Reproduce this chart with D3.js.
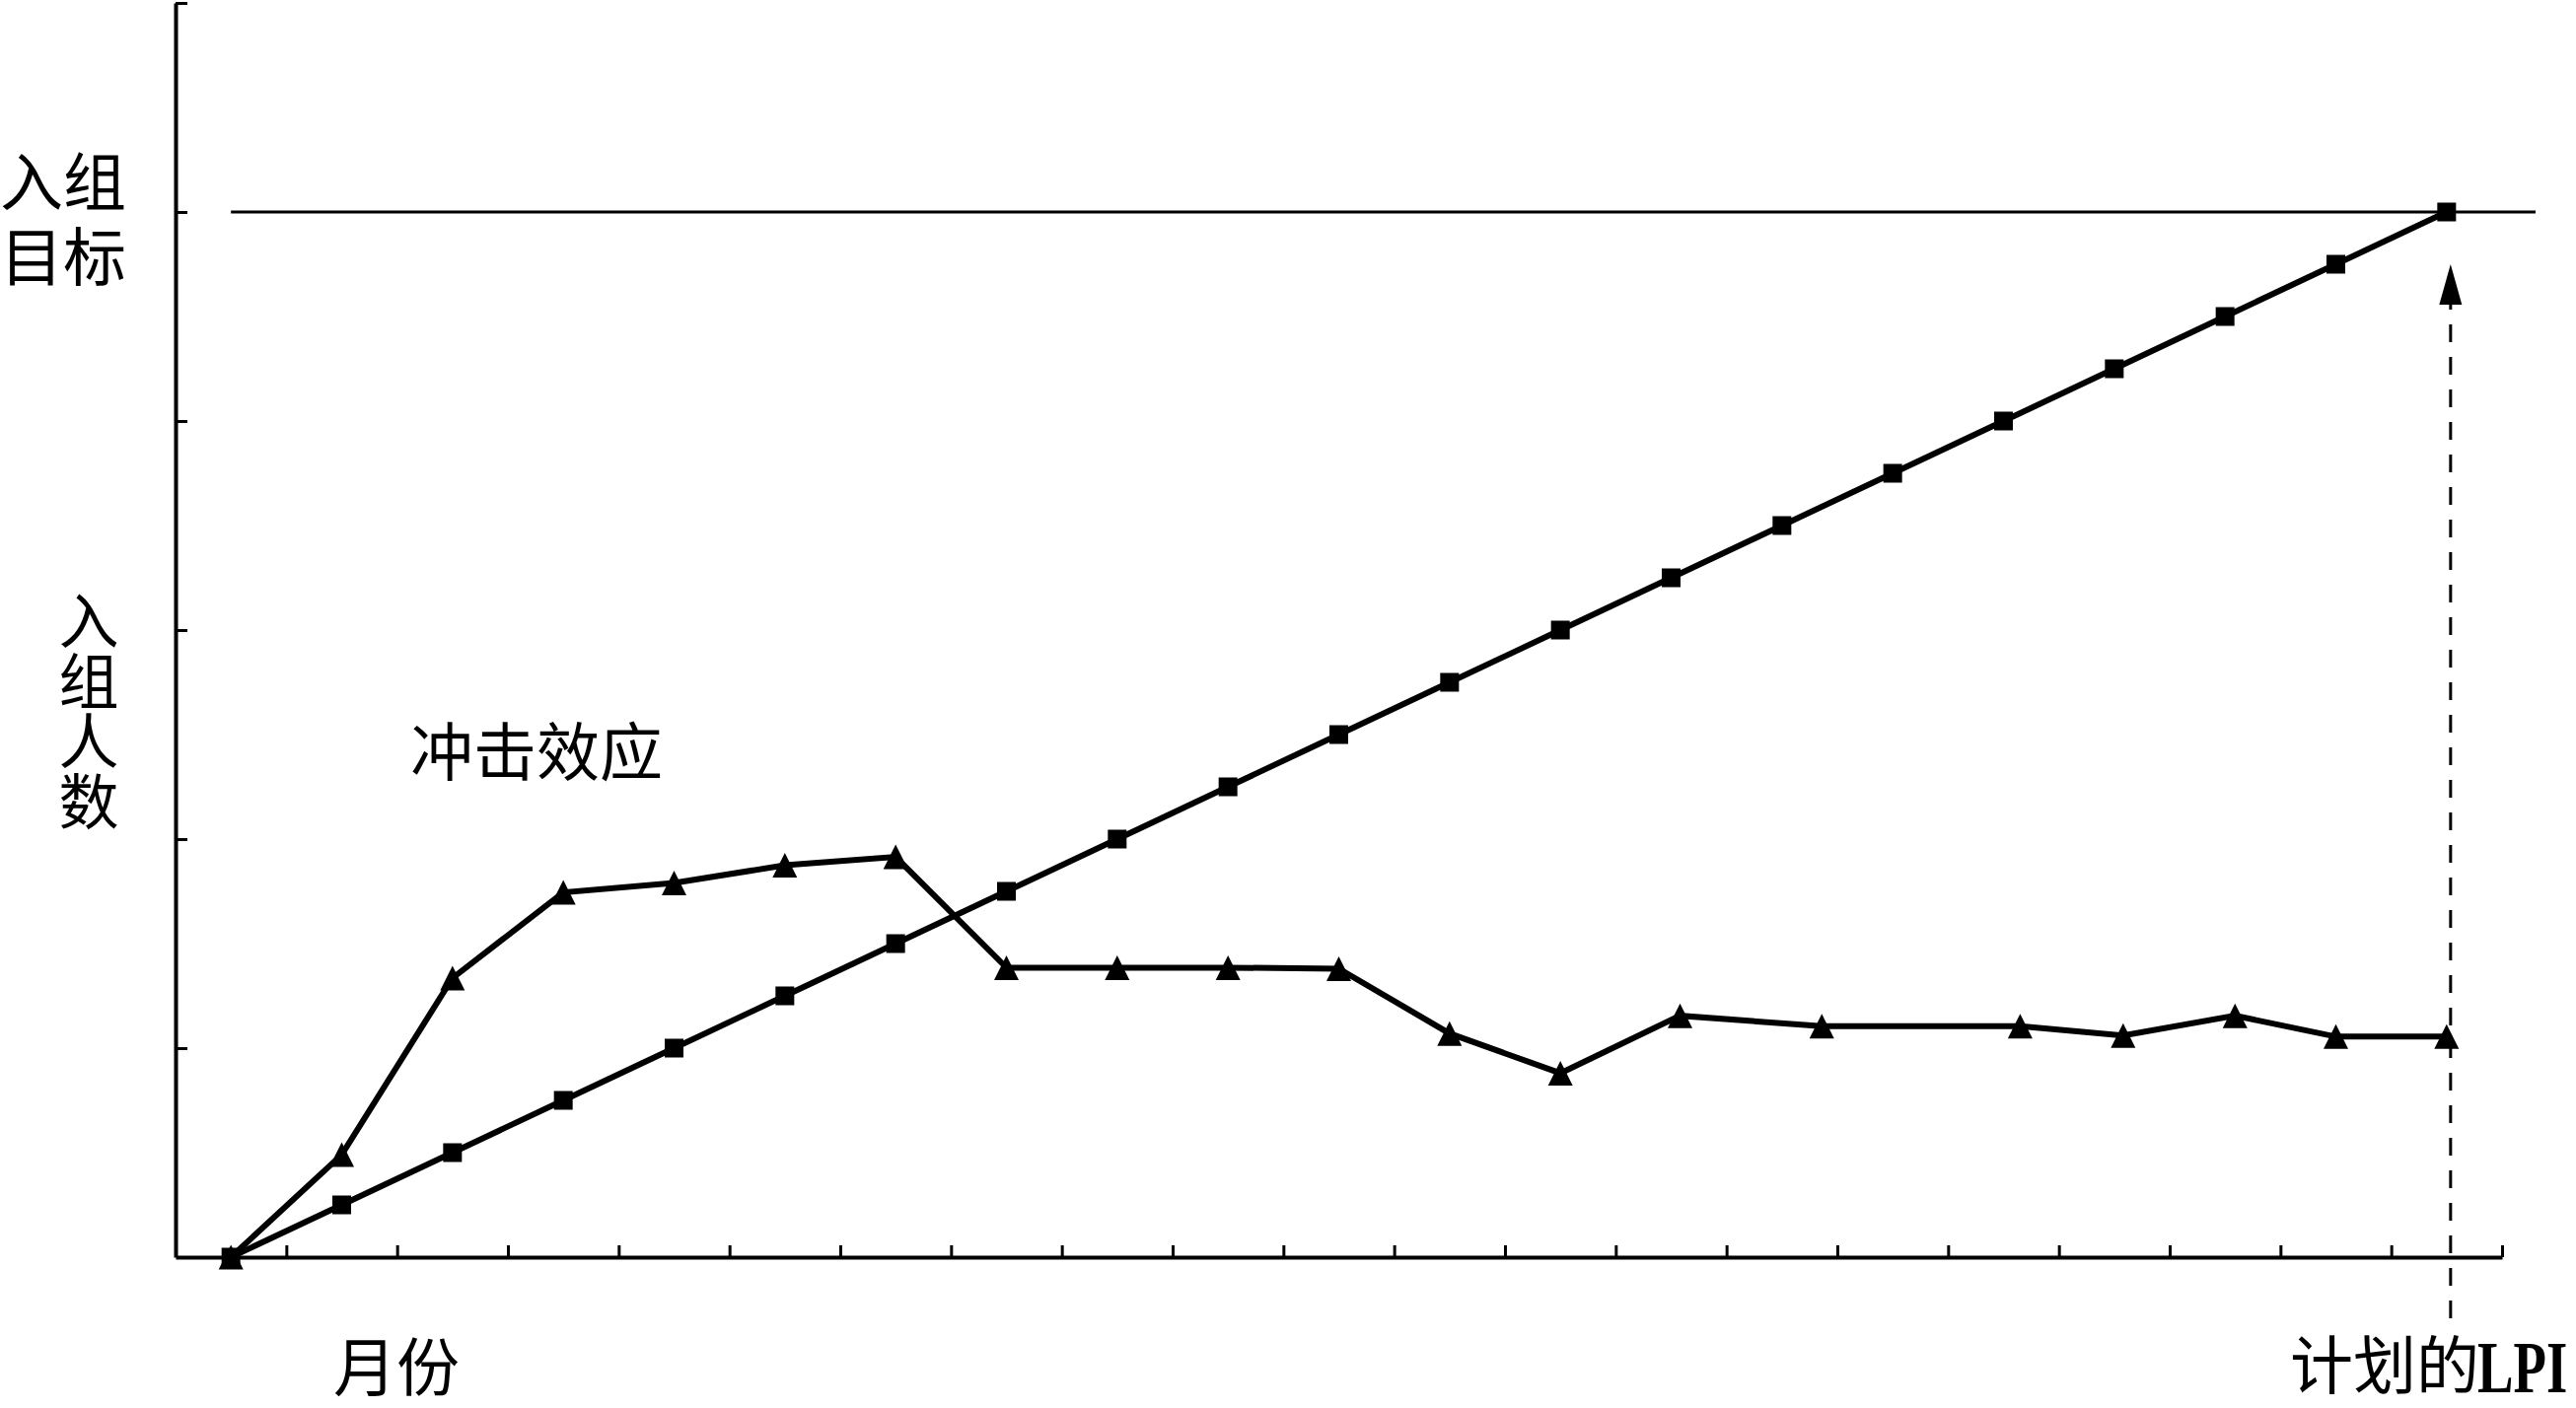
<!DOCTYPE html>
<html><head><meta charset="utf-8">
<script src="https://cdn.jsdelivr.net/npm/d3@7"></script>
<style>html,body{margin:0;padding:0;background:#fff;}svg{display:block;}
#wrap{position:relative;width:2612px;height:1428px;}
.lab{position:absolute;font-family:'Noto Sans CJK SC','Noto Sans',sans-serif;font-size:64px;line-height:76px;color:#000;white-space:nowrap;}
</style>
</head><body>
<div id="wrap"></div>
<script>
// ---- data ----
const planMonths = [0,1,2,3,4,5,6,7,8,9,10,11,12,13,14,15,16,17,18,19,20];
const planValues = [0,5,10,15,20,25,30,35,40,45,50,55,60,65,70,75,80,85,90,95,100];
const actualMonths = [0,1,2,3,4,5,6,7,8,9,10,11,12,13.08,14.36,16.15,17.08,18.09,19,20];
const actualValues = [0,9.8,26.7,34.9,35.8,37.5,38.3,27.7,27.7,27.7,27.6,21.4,17.6,23.1,22.1,22.1,21.2,23.1,21.1,21.1];
const targetValue = 100;
const yTicks = [20,40,60,80,100,120];
const xTicks = [0.5,1.5,2.5,3.5,4.5,5.5,6.5,7.5,8.5,9.5,10.5,11.5,12.5,13.5,14.5,15.5,16.5,17.5,18.5,19.5,20.5];
const labels = {
  target: ["入组", "目标"],
  yTitle: "入组人数",
  effect: "冲击效应",
  xTitle: "月份",
  lpiCn: "计划的",
  lpiEn: "LPI"
};

// ---- layout ----
const W = 2612, H = 1428;
const wrap = d3.select("#wrap");
const svg = wrap.append("svg").attr("width", W).attr("height", H)
  .style("background", "#fff");

const x = d3.scaleLinear().domain([-0.5, 20.5]).range([178, 2537]);
const y = d3.scaleLinear().domain([0, 120]).range([1275, 3]);

const cjk = "'Noto Sans CJK SC', 'Noto Sans', sans-serif";

// axes
const xAxis = d3.axisBottom(x).tickValues(xTicks).tickSize(-12).tickSizeOuter(0).tickFormat("");
const yAxis = d3.axisLeft(y).tickValues(yTicks).tickSize(-12).tickSizeOuter(0).tickFormat("");
const gx = svg.append("g").attr("transform", `translate(0,${y(0)})`).call(xAxis);
const gy = svg.append("g").attr("transform", `translate(${x(-0.5)},0)`).call(yAxis);
[gx, gy].forEach(g => {
  g.select(".domain").attr("stroke", "#000").attr("stroke-width", 4);
  g.selectAll(".tick line").attr("stroke", "#000").attr("stroke-width", 3);
});

// target line
svg.append("line")
  .attr("x1", x(0)).attr("x2", x.range()[1] + 34)
  .attr("y1", y(targetValue)).attr("y2", y(targetValue))
  .attr("stroke", "#000").attr("stroke-width", 3);

// lines
const line = d3.line().x(d => x(d[0])).y(d => y(d[1]));
const planData = planMonths.map((m, i) => [m, planValues[i]]);
const actData = actualMonths.map((m, i) => [m, actualValues[i]]);

svg.append("path").datum(actData).attr("d", line)
  .attr("fill", "none").attr("stroke", "#000").attr("stroke-width", 6).attr("stroke-linejoin", "miter");
svg.append("path").datum(planData).attr("d", line)
  .attr("fill", "none").attr("stroke", "#000").attr("stroke-width", 6).attr("stroke-linejoin", "miter");

// markers
const sq = 19;
svg.append("g").selectAll("rect").data(planData).join("rect")
  .attr("x", d => x(d[0]) - sq / 2).attr("y", d => y(d[1]) - sq / 2)
  .attr("width", sq).attr("height", sq).attr("fill", "#000");
const th = 12.5;
svg.append("g").selectAll("path").data(actData).join("path")
  .attr("d", `M0,${-th} L${th},${th} L${-th},${th} Z`)
  .attr("transform", d => `translate(${x(d[0])},${y(d[1])})`)
  .attr("fill", "#000");

// dashed arrow
const ax = x(20) + 4;
svg.append("line")
  .attr("x1", ax).attr("x2", ax)
  .attr("y1", y(0) + 62).attr("y2", y(targetValue) + 94)
  .attr("stroke", "#000").attr("stroke-width", 3).attr("stroke-dasharray", "18,15");
svg.append("path")
  .attr("d", `M${ax},${y(targetValue) + 53} L${ax + 11.5},${y(targetValue) + 94} L${ax - 11.5},${y(targetValue) + 94} Z`)
  .attr("fill", "#000");

// texts
const fs = 64;
const t = (txt, tx, ty, anchor) => svg.append("text").text(txt)
  .attr("x", tx).attr("y", ty).attr("text-anchor", anchor || "start")
  .attr("font-family", cjk).attr("font-size", fs).attr("fill", "#000");

// two-line target label as an HTML block (tight line height)
wrap.append("div").attr("class", "lab")
  .style("left", "0px").style("top", "142px")
  .html(labels.target.join("<br>"));

// vertical y title as a single text
svg.append("text").text(labels.yTitle)
  .attr("x", 90).attr("y", 599)
  .attr("writing-mode", "tb")
  .style("writing-mode", "vertical-rl")
  .attr("font-family", cjk).attr("font-size", 61).attr("fill", "#000");
t(labels.effect, 416, 786);
t(labels.xTitle, 338, 1410);
t(labels.lpiCn, 2322, 1408);
svg.append("text").text(labels.lpiEn)
  .attr("transform", "translate(2512,1412) scale(0.74,1)")
  .attr("font-family", "'Liberation Serif', 'DejaVu Serif', serif")
  .attr("font-weight", "bold").attr("font-size", 74)
  .attr("fill", "#000");
</script>
</body></html>
